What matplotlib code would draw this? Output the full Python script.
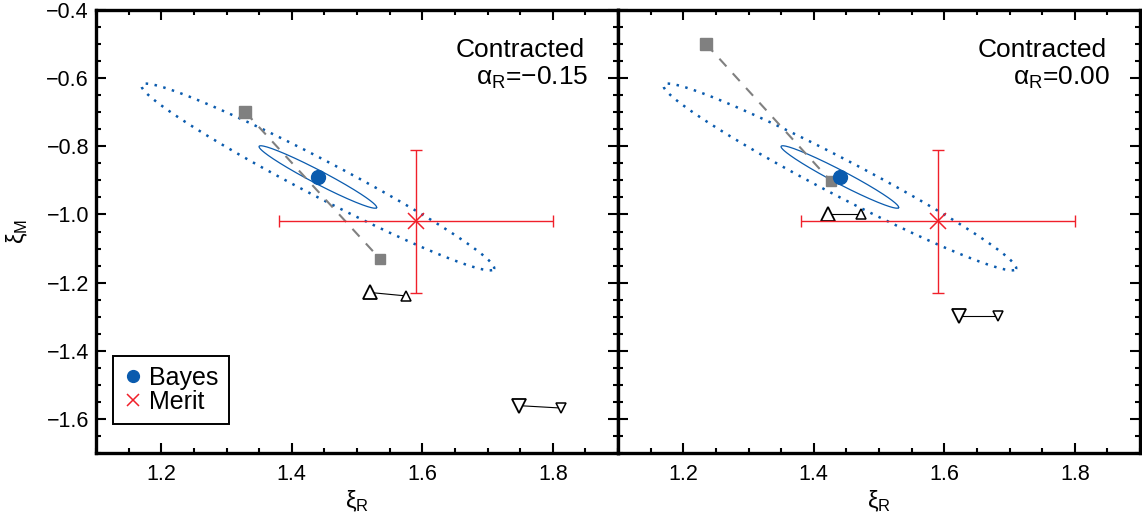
import numpy as np
import matplotlib.pyplot as plt
from matplotlib.ticker import MultipleLocator

plt.rcParams['font.family'] = ['Liberation Sans', 'DejaVu Sans']
plt.rcParams['mathtext.default'] = 'regular'

BLUE = '#0A5BAE'
RED = '#F0202A'
GRAY = '#808080'

# per panel values
alpha_labels = ['\u22120.15', '0.00']

bayes_x = [1.44, 1.44]
bayes_y = [-0.89, -0.89]

merit_x = [1.59, 1.59]
merit_y = [-1.02, -1.02]
merit_xerr = [(0.21, 0.21), (0.21, 0.21)]   # (low, high)
merit_yerr = [(0.21, 0.21), (0.21, 0.21)]

# 1-sigma ellipse: half major axis and half minor axis vectors (data units)
ell_major = (0.09, -0.09)
ell_minor = (0.0047, 0.0173)
# outer (dotted) contour
ell_major_out = (0.27, -0.27)
ell_minor_out = (0.0128, 0.047)

# gray squares (big, small) joined by dashed line
sq_x = [[1.329, 1.536], [1.235, 1.426]]
sq_y = [[-0.70, -1.132], [-0.50, -0.902]]

# open up-triangles (big, small)
up_x = [[1.52, 1.575], [1.422, 1.472]]
up_y = [[-1.229, -1.239], [-1.0, -1.0]]

# open down-triangles (big, small)
dn_x = [[1.748, 1.812], [1.623, 1.682]]
dn_y = [[-1.561, -1.568], [-1.298, -1.298]]


def ellipse(cx, cy, major, minor, n=400):
    t = np.linspace(0, 2 * np.pi, n)
    x = cx + major[0] * np.cos(t) + minor[0] * np.sin(t)
    y = cy + major[1] * np.cos(t) + minor[1] * np.sin(t)
    return x, y


fig = plt.figure(figsize=(11.42, 5.13), dpi=100)
W, H = 1142.0, 513.0
axes = [fig.add_axes([96 / W, 1 - 453 / H, 522 / W, 443 / H]),
        fig.add_axes([618 / W, 1 - 453 / H, 522 / W, 443 / H])]

for i, ax in enumerate(axes):
    # outer dotted contour
    ex, ey = ellipse(bayes_x[i], bayes_y[i], ell_major_out, ell_minor_out)
    ax.plot(ex, ey, color=BLUE, lw=1.8, ls=(0, (1, 2.6)), zorder=2)
    # inner solid contour
    ex, ey = ellipse(bayes_x[i], bayes_y[i], ell_major, ell_minor)
    ax.plot(ex, ey, color=BLUE, lw=0.9, zorder=2)

    # gray squares
    ax.plot(sq_x[i], sq_y[i], color=GRAY, lw=1.5, ls=(0, (5, 4.5)), zorder=3)
    ax.plot(sq_x[i][0], sq_y[i][0], 's', color=GRAY, ms=9, zorder=3)
    ax.plot(sq_x[i][1], sq_y[i][1], 's', color=GRAY, ms=6.5, zorder=3)

    # triangles
    ax.plot(up_x[i], up_y[i], color='black', lw=0.8, zorder=3)
    ax.plot(up_x[i][0], up_y[i][0], '^', mfc='white', mec='black', mew=1.3, ms=10.5, zorder=4)
    ax.plot(up_x[i][1], up_y[i][1], '^', mfc='white', mec='black', mew=1.1, ms=6.5, zorder=4)
    ax.plot(dn_x[i], dn_y[i], color='black', lw=0.8, zorder=3)
    ax.plot(dn_x[i][0], dn_y[i][0], 'v', mfc='white', mec='black', mew=1.3, ms=10.5, zorder=4)
    ax.plot(dn_x[i][1], dn_y[i][1], 'v', mfc='white', mec='black', mew=1.1, ms=6.5, zorder=4)

    # merit with error bars
    ax.errorbar(merit_x[i], merit_y[i],
                xerr=[[merit_xerr[i][0]], [merit_xerr[i][1]]],
                yerr=[[merit_yerr[i][0]], [merit_yerr[i][1]]],
                fmt='none', ecolor=RED, elinewidth=1.0, capsize=4.3, capthick=1.0, zorder=5)
    ax.plot(merit_x[i], merit_y[i], 'x', color=RED, ms=11, mew=1.1, zorder=6, label='Merit')

    # bayes point
    ax.plot(bayes_x[i], bayes_y[i], 'o', color=BLUE, ms=10, zorder=7, label='Bayes')

    ax.text(0.937, 0.894, 'Contracted', transform=ax.transAxes,
            ha='right', va='baseline', fontsize=19)
    ax.text(0.943, 0.831, '\u03b1$_{R}$=' + alpha_labels[i], transform=ax.transAxes,
            ha='right', va='baseline', fontsize=19)

    ax.set_xlim(1.1, 1.9)
    ax.set_ylim(-1.7, -0.4)
    ax.xaxis.set_major_locator(MultipleLocator(0.2))
    ax.xaxis.set_minor_locator(MultipleLocator(0.05))
    ax.yaxis.set_major_locator(MultipleLocator(0.2))
    ax.yaxis.set_minor_locator(MultipleLocator(0.05))
    ax.tick_params(which='both', direction='in', top=True, right=True, width=1.5)
    ax.tick_params(which='major', length=7.2, labelsize=15.5)
    ax.tick_params(which='minor', length=3.6)
    ax.tick_params(axis='x', pad=8)
    ax.tick_params(axis='y', pad=5)
    for s in ax.spines.values():
        s.set_linewidth(2.4)
    ax.set_xticks([1.2, 1.4, 1.6, 1.8])
    ax.set_xticklabels(['1.2', '1.4', '1.6', '1.8'])
    ax.set_xlabel('\u03be$_{R}$', fontsize=17, labelpad=2)

axes[0].set_yticks([-0.4, -0.6, -0.8, -1.0, -1.2, -1.4, -1.6])
axes[0].set_yticklabels(['\u22120.4', '\u22120.6', '\u22120.8', '\u22121.0',
                         '\u22121.2', '\u22121.4', '\u22121.6'])
axes[0].set_ylabel('\u03be$_{M}$', fontsize=17, labelpad=12)
axes[1].tick_params(axis='y', labelleft=False)

h, l = axes[0].get_legend_handles_labels()
order = [l.index('Bayes'), l.index('Merit')]
leg = axes[0].legend([h[k] for k in order], [l[k] for k in order],
                     loc='lower left', bbox_to_anchor=(0.033, 0.065), borderaxespad=0,
                     fontsize=18, frameon=True, fancybox=False, framealpha=1,
                     edgecolor='black', handlelength=0.8, handletextpad=0.25,
                     borderpad=0.4, labelspacing=0.0, markerscale=0.85)
leg.get_frame().set_linewidth(1.4)

fig.savefig('out.png', dpi=100)
